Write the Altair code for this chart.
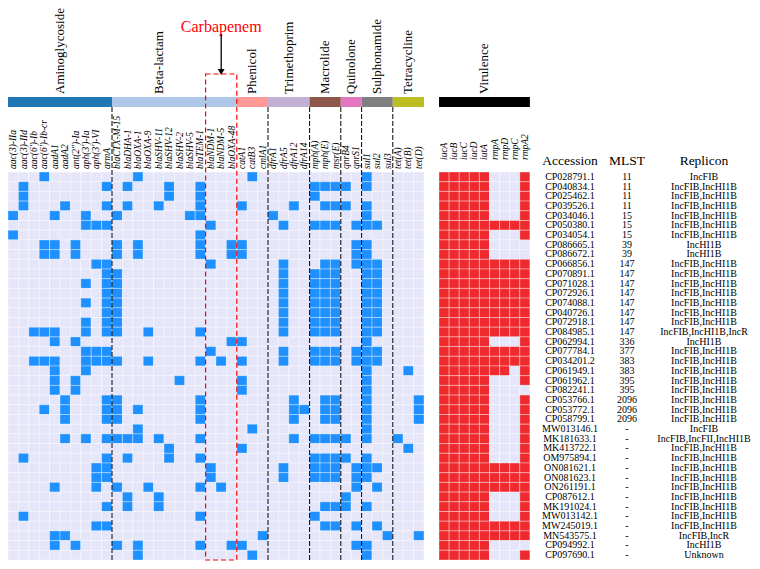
import altair as alt
import pandas as pd

# ---------------- data ----------------
AMINO = ["aac(3)-IIa", "aac(3)-IId", "aac(6')-Ib", "aac(6')-Ib-cr", "aadA1", "aadA2",
         "ant(2'')-Ia", "aph(3')-Ia", "aph(3')-VI", "armA"]
BETA = ["blaCTX-M-15", "blaDHA-1", "blaOXA-1", "blaOXA-9", "blaSHV-11", "blaSHV-12",
        "blaSHV-2", "blaSHV-5", "blaTEM-1"]
CARBA = ["blaNDM-1", "blaNDM-5", "blaOXA-48"]
PHEN = ["catA1", "catB3", "cmlA1"]
TRIM = ["dfrA1", "dfrA5", "dfrA12", "dfrA14"]
MACRO = ["mph(A)", "mph(E)", "msr(E)"]
QUIN = ["qnrB4", "qnrS1"]
SULPH = ["sul1", "sul2", "sul3"]
TET = ["tet(A)", "tet(B)", "tet(D)"]
VIR = ["iucA", "iucB", "iucC", "iucD", "iutA", "rmpA", "rmpD", "rmpC", "rmpA2"]

GROUPS = [
    ("Aminoglycoside", AMINO, "#1f77b4"),
    ("Beta-lactam", BETA, "#aec7e8"),
    ("Carbapenem", CARBA, "#aec7e8"),
    ("Phenicol", PHEN, "#ff9896"),
    ("Trimethoprim", TRIM, "#c5b0d5"),
    ("Macrolide", MACRO, "#8c564b"),
    ("Quinolone", QUIN, "#e377c2"),
    ("Sulphonamide", SULPH, "#7f7f7f"),
    ("Tetracycline", TET, "#bcbd22"),
]

ACCESSIONS = ["CP028791.1", "CP040834.1", "CP025462.1", "CP039526.1", "CP034046.1",
              "CP050380.1", "CP034054.1", "CP086665.1", "CP086672.1", "CP066856.1",
              "CP070891.1", "CP071028.1", "CP072926.1", "CP074088.1", "CP040726.1",
              "CP072918.1", "CP084985.1", "CP062994.1", "CP077784.1", "CP034201.2",
              "CP061949.1", "CP061962.1", "CP082241.1", "CP053766.1", "CP053772.1",
              "CP058799.1", "MW013146.1", "MK181633.1", "MK413722.1", "OM975894.1",
              "ON081621.1", "ON081623.1", "ON261191.1", "CP087612.1", "MK191024.1",
              "MW013142.1", "MW245019.1", "MN543575.1", "CP094992.1", "CP097690.1"]
MLST = ["11", "11", "11", "11", "15", "15", "15", "39", "39",
        "147", "147", "147", "147", "147", "147", "147", "147",
        "336", "377", "383", "383", "395", "395", "2096", "2096", "2096"] + ["-"] * 14
REPLICON = (["IncFIB"] + ["IncFIB,IncHI1B"] * 6 + ["IncHI1B"] * 2 + ["IncFIB,IncHI1B"] * 7
            + ["IncFIB,IncHI1B,IncR", "IncHI1B"] + ["IncFIB,IncHI1B"] * 8
            + ["IncFIB", "IncFIB,IncFII,IncHI1B"] + ["IncFIB,IncHI1B"] * 9
            + ["IncFIB,IncR", "IncHI1B", "Unknown"])

# presence (1) / absence (0) of resistance genes, groups separated by spaces
RES_PROFILE = [
    "0001000000 001000000 000 010 0000 000 00 100 000",
    "0100000001 010001001 000 000 0000 111 10 100 000",
    "0100000000 000001001 000 000 0000 100 00 000 000",
    "0100010001 010010001 000 100 0010 011 10 100 000",
    "1000100100 100000011 000 000 1000 000 00 100 000",
    "0000000111 000000000 100 000 0100 111 01 110 000",
    "1000000000 000000001 000 000 0000 000 00 000 000",
    "0001101000 101000001 001 100 0000 000 01 100 000",
    "0001101000 101000001 001 100 0000 000 01 100 000",
    "0000000011 000000000 100 000 0100 011 01 110 000",
    "0000000001 100000000 000 000 0100 111 00 110 000",
    "0000000101 100000000 000 000 0100 111 00 110 000",
    "0000000001 100000000 000 000 0100 111 00 110 000",
    "0000000101 100000000 000 000 0100 111 00 110 000",
    "0000000001 100000000 000 000 0100 111 00 110 000",
    "0000000101 100000000 000 000 0100 111 00 110 000",
    "0011100101 100100001 000 000 0100 111 00 110 000",
    "0000101000 000000000 001 100 0000 000 00 100 000",
    "0000000111 000000000 100 000 0100 111 01 110 000",
    "0011100111 100100001 010 100 0100 111 01 110 000",
    "0000100100 000000000 000 000 0000 000 00 100 010",
    "0000101000 000000100 000 100 0000 000 00 100 000",
    "0000101000 000000000 000 100 0000 000 00 100 000",
    "0000010001 100000001 000 000 0010 011 00 100 001",
    "0001010001 101000001 000 000 0011 011 00 100 001",
    "0000010001 100000001 000 000 0010 011 00 100 001",
    "0000000000 001000000 000 010 0000 000 00 100 000",
    "0000010101 111010001 000 000 0010 111 10 100 100",
    "0000000000 000001000 000 100 0000 000 00 000 010",
    "0100000001 010001001 000 000 0000 111 10 100 000",
    "0000000011 000000000 100 000 0100 111 01 110 000",
    "0000000011 000000000 100 000 0100 111 01 100 000",
    "0000100010 100100001 010 000 0000 000 01 010 000",
    "0000000000 010010000 000 000 0000 000 10 000 000",
    "0000000001 010010000 000 000 0000 011 10 100 000",
    "0100000000 000000001 000 000 0000 100 00 000 000",
    "0000000011 000000000 000 000 0000 011 01 010 000",
    "0000110000 000000000 000 001 0000 000 00 001 001",
    "0000101000 101000001 001 100 0000 000 01 100 000",
    "0000000000 001000000 000 010 0000 000 00 100 000",
]

VIR_PROFILE = [
    "111110001", "111110001", "111110001", "111110001", "111110001",
    "111111111", "111110001", "111110000", "111110000", "111111111",
    "111111111", "111111111", "111111111", "111111111", "111111111",
    "111111111", "111111111", "111110001", "111111111", "111111111",
    "111111101", "111110001", "111110000", "111110001", "111110001",
    "111110001", "111110001", "111110001", "111110001", "111110001",
    "111111111", "111111111", "111111111", "111110001", "111110001",
    "111110001", "111111111", "111111111", "111110000", "111110001",
]

# ---------------- layout (pixels in the chart frame) ----------------
W, H = 744, 553
CW, RH = 10.4, 9.7          # cell size
Y0 = 164                    # top of heat maps
VX0, VW = 431, 10.1         # virulence block
BAR_Y, BAR_Y2 = 89, 99
LAB_Y = 86
GENE_Y = 161
VGENE_Y = 152
HEAD_Y = 153
TAB_X = {"acc": 562, "mlst": 619, "rep": 696}
FONT = "Liberation Serif"

XS = alt.Scale(domain=[0, W], nice=False, zero=False)
YS = alt.Scale(domain=[0, H], nice=False, zero=False, reverse=True)


def X(f="x"):
    return alt.X(f"{f}:Q", scale=XS, axis=None)


def Y(f="y"):
    return alt.Y(f"{f}:Q", scale=YS, axis=None)


res_genes = [g for _, genes, _ in GROUPS for g in genes]
NBOT = Y0 + len(ACCESSIONS) * RH

# cells
cells = []
for r, acc in enumerate(ACCESSIONS):
    bits = RES_PROFILE[r].replace(" ", "")
    for c, b in enumerate(bits):
        cells.append(dict(x=c * CW, x2=(c + 1) * CW, y=Y0 + r * RH, y2=Y0 + (r + 1) * RH,
                          state="res" if b == "1" else "absent", gene=res_genes[c], acc=acc))
    for c, b in enumerate(VIR_PROFILE[r]):
        cells.append(dict(x=VX0 + c * VW, x2=VX0 + (c + 1) * VW, y=Y0 + r * RH,
                          y2=Y0 + (r + 1) * RH,
                          state="vir" if b == "1" else "absent", gene=VIR[c], acc=acc))
cells = pd.DataFrame(cells)

heat = alt.Chart(cells).mark_rect(stroke="white", strokeWidth=0.5, strokeOpacity=0.7).encode(
    x=X(), x2="x2:Q", y=Y(), y2="y2:Q",
    color=alt.Color("state:N", scale=alt.Scale(domain=["absent", "res", "vir"],
                                               range=["#e6e6fa", "#1e90ff", "#ee2a2e"]),
                    legend=None),
)

# category bars, labels and separators
bars, labels, seps = [], [], []
start = 0
for name, genes, col in GROUPS:
    end = start + len(genes)
    bars.append(dict(x=start * CW, x2=end * CW, y=BAR_Y, y2=BAR_Y2, color=col))
    if name != "Carbapenem":
        labels.append(dict(x=(start + end) / 2 * CW, y=LAB_Y, label=name))
    if name not in ("Aminoglycoside", "Carbapenem", "Phenicol"):
        seps.append(dict(x=start * CW, y=BAR_Y2, y2=NBOT))
    start = end
bars.append(dict(x=VX0, x2=VX0 + len(VIR) * VW, y=BAR_Y, y2=BAR_Y2, color="black"))
labels.append(dict(x=VX0 + len(VIR) * VW / 2, y=LAB_Y, label="Virulence"))
bars, labels, seps = pd.DataFrame(bars), pd.DataFrame(labels), pd.DataFrame(seps)

bar_layer = alt.Chart(bars).mark_rect().encode(
    x=X(), x2="x2:Q", y=Y(), y2="y2:Q", color=alt.Color("color:N", scale=None))
lab_layer = alt.Chart(labels).mark_text(angle=270, align="left", baseline="middle",
                                         font=FONT, fontSize=13, color="black").encode(
    x=X(), y=Y(), text="label:N")
sep_layer = alt.Chart(seps).mark_rule(color="black", strokeWidth=1, strokeDash=[5, 2]).encode(
    x=X(), y=Y(), y2="y2:Q")

# carbapenem highlight
c0 = len(AMINO) + len(BETA)
c1 = c0 + len(CARBA)
cx = (c0 + c1) / 2 * CW
box = pd.DataFrame([dict(x=c0 * CW, x2=c1 * CW, y=66, y2=NBOT)])
box_layer = alt.Chart(box).mark_rect(fillOpacity=0, stroke="red", strokeWidth=1.2,
                                     strokeDash=[5, 3]).encode(
    x=X(), x2="x2:Q", y=Y(), y2="y2:Q")
carb_txt = alt.Chart(pd.DataFrame([dict(x=cx, y=19, label="Carbapenem")])).mark_text(
    font=FONT, fontSize=16, color="red", align="center", baseline="middle").encode(
    x=X(), y=Y(), text="label:N")
arrow_line = alt.Chart(pd.DataFrame([dict(x=cx, y=26, y2=62)])).mark_rule(
    color="black", strokeWidth=1.3).encode(x=X(), y=Y(), y2="y2:Q")
arrow_head = alt.Chart(pd.DataFrame([dict(x=cx, y=64)])).mark_point(
    shape="triangle-down", filled=True, color="black", size=45, opacity=1).encode(x=X(), y=Y())

# gene labels
glab = pd.DataFrame([dict(x=(i + 0.5) * CW, y=GENE_Y, label=g) for i, g in enumerate(res_genes)])
vlab = pd.DataFrame([dict(x=VX0 + (i + 0.5) * VW, y=VGENE_Y, label=g) for i, g in enumerate(VIR)])
glab_layer = alt.Chart(glab).mark_text(angle=270, align="left", baseline="middle", font=FONT,
                                       fontSize=9.5, fontStyle="italic", color="black").encode(
    x=X(), y=Y(), text="label:N")
vlab_layer = alt.Chart(vlab).mark_text(angle=270, align="left", baseline="middle", font=FONT,
                                       fontSize=9.5, fontStyle="italic", color="black").encode(
    x=X(), y=Y(), text="label:N")

# table
head = pd.DataFrame([dict(x=TAB_X["acc"], y=HEAD_Y, label="Accession"),
                     dict(x=TAB_X["mlst"], y=HEAD_Y, label="MLST"),
                     dict(x=TAB_X["rep"], y=HEAD_Y, label="Replicon")])
head_layer = alt.Chart(head).mark_text(font=FONT, fontSize=13.5, align="center",
                                       baseline="middle", color="black").encode(
    x=X(), y=Y(), text="label:N")
tab = []
for r, (a, m, rep) in enumerate(zip(ACCESSIONS, MLST, REPLICON)):
    yy = Y0 + (r + 0.5) * RH
    tab.append(dict(x=TAB_X["acc"], y=yy, label=a))
    tab.append(dict(x=TAB_X["mlst"], y=yy, label=m))
    tab.append(dict(x=TAB_X["rep"], y=yy, label=rep))
tab = pd.DataFrame(tab)
tab_layer = alt.Chart(tab).mark_text(font=FONT, fontSize=10, align="center",
                                     baseline="middle", color="black").encode(
    x=X(), y=Y(), text="label:N")

chart = alt.layer(
    heat, bar_layer, sep_layer, box_layer, lab_layer, carb_txt, arrow_line, arrow_head,
    glab_layer, vlab_layer, head_layer, tab_layer
).properties(
    width=W, height=H, padding=0, autosize=alt.AutoSizeParams(type="none")
).configure_view(stroke=None)

chart.save("out.html", embed_options={"renderer": "svg", "actions": False})
